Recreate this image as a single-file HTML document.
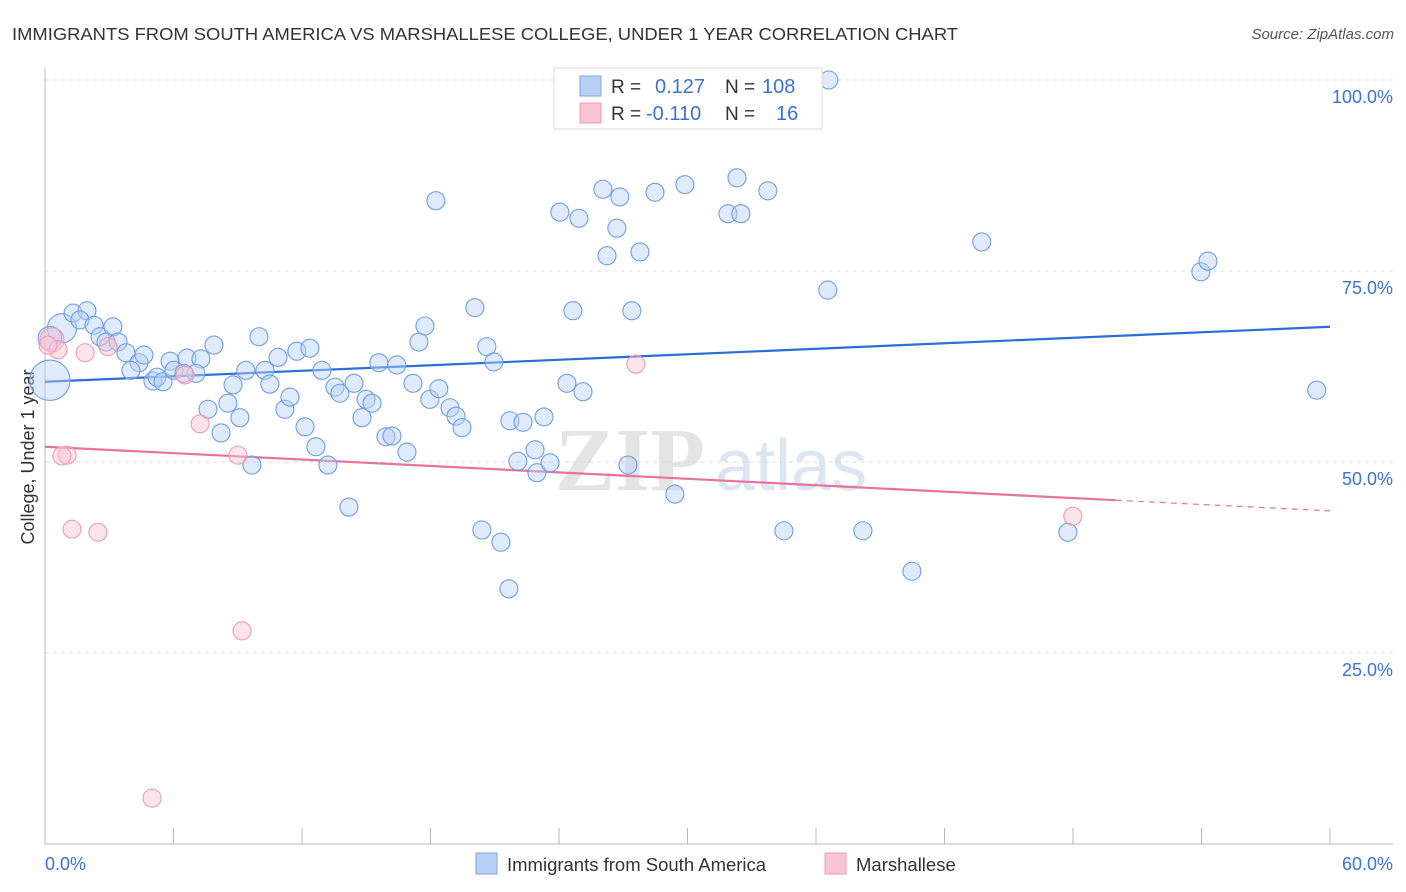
<!DOCTYPE html>
<html><head><meta charset="utf-8"><style>
body{margin:0;background:#fff;font-family:"Liberation Sans",sans-serif;}
svg{display:block}
</style></head><body>
<svg id="chart" width="1406" height="892">
<text x="12" y="40" font-size="17.5" fill="#333" textLength="946" lengthAdjust="spacingAndGlyphs">IMMIGRANTS FROM SOUTH AMERICA VS MARSHALLESE COLLEGE, UNDER 1 YEAR CORRELATION CHART</text>
<text x="1394" y="39" font-size="15" fill="#555" font-style="italic" text-anchor="end">Source: ZipAtlas.com</text>
<text transform="translate(34,457) rotate(-90)" font-size="18" fill="#333" text-anchor="middle">College, Under 1 year</text>
<g><text x="555" y="490" font-size="90" fill="#e4e4e4" font-family="Liberation Serif,serif" font-weight="bold">ZIP</text><text x="715" y="490" font-size="72" fill="#dce6f3">atlas</text></g>
<g id="grid"></g><g id="axes"></g><g id="trends"></g><g id="pts"></g>
<g>
<rect x="554" y="68" width="268" height="61" fill="#fff" stroke="#ddd"/>
<rect x="580" y="76" width="21" height="20" fill="#b8d0f4" stroke="#7aa6e6"/>
<rect x="580" y="103" width="21" height="20" fill="#f9c4d3" stroke="#ee9ab2"/>
<text x="611" y="93" font-size="19" fill="#333">R =</text><text x="655" y="93" font-size="20" fill="#3a73d0">0.127</text>
<text x="725" y="93" font-size="19" fill="#333">N =</text><text x="762" y="93" font-size="20" fill="#3a73d0">108</text>
<text x="611" y="120" font-size="19" fill="#333">R =</text><text x="646" y="120" font-size="20" fill="#3a73d0">-0.110</text>
<text x="725" y="120" font-size="19" fill="#333">N =</text><text x="776" y="120" font-size="20" fill="#3a73d0">16</text>
</g>
<g>
<rect x="476" y="853" width="21" height="21" fill="#b8d0f4" stroke="#7aa6e6"/>
<text x="507" y="871" font-size="18.5" fill="#333">Immigrants from South America</text>
<rect x="825" y="853" width="21" height="21" fill="#f9c4d3" stroke="#ee9ab2"/>
<text x="856" y="871" font-size="18.5" fill="#333">Marshallese</text>
</g>
</svg>
<script>
const blueX=[0.23,0.79,0.23,1.31,1.96,1.63,2.29,2.57,3.17,2.85,3.41,3.78,4.39,4.62,4.01,5.04,5.23,5.51,5.84,6.02,6.63,7.28,7.05,6.49,7.89,7.61,8.22,8.54,8.78,9.10,9.38,9.66,9.99,10.27,10.50,10.88,11.20,11.44,11.76,12.14,12.37,12.65,12.93,13.21,13.54,13.77,14.19,14.43,14.80,14.99,15.27,15.59,15.92,16.20,16.43,16.90,17.18,17.46,17.74,17.97,18.39,18.91,19.19,19.47,18.25,20.07,20.63,20.96,20.40,21.29,21.66,21.71,22.08,22.32,22.88,22.97,23.30,23.58,24.04,24.37,24.65,24.93,25.12,26.05,26.24,26.70,26.84,27.22,27.40,27.78,28.48,29.41,29.88,31.89,32.31,32.49,33.75,34.50,36.55,36.60,38.19,40.48,43.74,47.76,53.97,54.30,59.38];
const blueY=[60.7,67.5,66.2,69.5,69.8,68.6,67.9,66.4,67.7,65.7,65.7,64.3,63.0,64.0,62.0,60.6,61.1,60.5,63.2,62.0,63.6,63.5,61.6,61.6,65.3,56.9,53.8,57.7,60.1,55.8,62.0,49.6,66.4,62.0,60.2,63.7,56.9,58.5,64.5,54.6,64.9,52.0,62.0,49.6,59.8,59.0,44.1,60.3,55.8,58.2,57.7,63.0,53.3,53.4,62.7,51.3,60.3,65.7,67.8,58.2,59.6,57.1,56.0,54.5,84.2,70.2,65.1,63.1,41.1,39.5,33.4,55.4,50.1,55.2,51.6,48.6,55.9,49.9,82.7,60.3,69.8,81.9,59.2,85.7,77.0,80.6,84.7,49.6,69.8,77.5,85.3,45.8,86.3,82.5,87.2,82.5,85.5,41.0,72.5,100.0,41.0,35.7,78.8,40.8,74.9,76.3,59.4];
const blueN=[5,3,2];
const pinkX=[0.33,0.61,1.03,0.79,1.26,1.87,2.47,2.94,5.00,6.54,7.24,9.01,9.20,27.59,47.99,0.14];
const pinkY=[66.0,64.7,50.9,50.8,41.2,64.3,40.8,65.1,6.0,61.4,55.0,50.9,27.9,62.8,42.9,65.3];
const pinkN=[2];
const blueTrend=[60.5,67.7]; // value at x=0 and x=60
const pinkTrend=[52.0,43.6];
const pinkSolidEnd=50;
const yTicks=[25,50,75,100];
const xTickCount=10;

const NS="http://www.w3.org/2000/svg";
const X0=45,X1=1330,Y0=844,Y100=80;
const sx=v=>X0+(X1-X0)*v/60;
const sy=v=>Y0-(Y0-Y100)*v/100;
function mk(t,a,p){const e=document.createElementNS(NS,t);for(const k in a)e.setAttribute(k,a[k]);p.appendChild(e);return e;}
const grid=document.getElementById('grid'),axes=document.getElementById('axes'),tr=document.getElementById('trends'),pts=document.getElementById('pts');
yTicks.forEach(v=>{
 const l=mk('line',{x1:X0,x2:1393,y1:sy(v),y2:sy(v),stroke:'#dcdcdc','stroke-dasharray':'4,4'},grid);
 
 
 const t=mk('text',{x:1393,y:sy(v)+23,'font-size':18,fill:'#3a73d0','text-anchor':'end'},grid);
 t.textContent=v.toFixed(1)+'%';
 
 
});
mk('line',{x1:X0,x2:X0,y1:68,y2:Y0,stroke:'#bbb'},axes);
mk('line',{x1:X0,x2:1393,y1:Y0,y2:Y0,stroke:'#bbb'},axes);
for(let i=1;i<=xTickCount;i++){const v=60*i/xTickCount;const l=mk('line',{x1:sx(v),x2:sx(v),y1:828,y2:Y0,stroke:'#bbb'},axes);
 
 }
let t=mk('text',{x:45,y:870,'font-size':18,fill:'#3a73d0'},axes);t.textContent='0.0%';


t=mk('text',{x:1393,y:870,'font-size':18,fill:'#3a73d0','text-anchor':'end'},axes);t.textContent='60.0%';


function dot(x,y,r,fill,stroke,name){const c=mk('circle',{cx:sx(x),cy:sy(y),r:r,fill:fill,'fill-opacity':0.45,stroke:stroke,'stroke-width':1.1},pts);
 
 }
blueX.forEach((x,i)=>{const n=blueN[i]||1;dot(x,blueY[i],n>1?9+(n-1)*2.8:9,'#b8d0f4','#6d9ee6','blue-point');});
pinkX.forEach((x,i)=>{const n=pinkN[i]||1;dot(x,pinkY[i],n>1?9+(n-1)*3:9,'#f9c4d3','#ee9ab2','pink-point');});
const bl=mk('line',{x1:sx(0),y1:sy(blueTrend[0]),x2:sx(60),y2:sy(blueTrend[1]),stroke:'#2a6fd6','stroke-width':2.2},tr);


const pv=x=>pinkTrend[0]+(pinkTrend[1]-pinkTrend[0])*x/60;
const pl=mk('line',{x1:sx(0),y1:sy(pv(0)),x2:sx(pinkSolidEnd),y2:sy(pv(pinkSolidEnd)),stroke:'#e8729a','stroke-width':2.2},tr);


const pd=mk('line',{x1:sx(pinkSolidEnd),y1:sy(pv(pinkSolidEnd)),x2:sx(60),y2:sy(pv(60)),stroke:'#e8729a','stroke-width':1.2,'stroke-dasharray':'6,5'},tr);


</script>
</body></html>
